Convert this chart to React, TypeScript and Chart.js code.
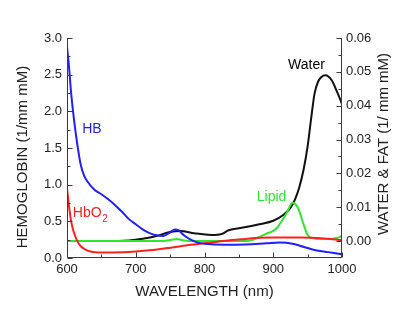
import { useEffect, useRef } from "react";
import { Chart, registerables } from "chart.js";

Chart.register(...registerables);

const FONT = '"Liberation Sans", Arial, Helvetica, sans-serif';

// Deoxy-hemoglobin (left axis)
const hbWavelength = [600, 603, 606, 610, 615, 620, 625, 630, 640, 650, 660, 670, 680, 690, 700, 710, 720, 730, 740, 750, 757, 762, 770, 780, 790, 800, 830, 860, 890, 910, 930, 945, 960, 980, 1000];
const hbValues = [2.88, 2.6, 2.25, 1.9, 1.55, 1.27, 1.12, 1.04, 0.93, 0.87, 0.8, 0.72, 0.63, 0.53, 0.46, 0.39, 0.34, 0.31, 0.3, 0.35, 0.39, 0.38, 0.31, 0.25, 0.21, 0.195, 0.18, 0.185, 0.2, 0.21, 0.19, 0.15, 0.11, 0.08, 0.05];

// Oxy-hemoglobin (left axis)
const hbo2Wavelength = [600, 603, 606, 610, 615, 620, 630, 640, 655, 680, 700, 720, 750, 780, 800, 830, 860, 880, 900, 940, 970, 1000];
const hbo2Values = [0.95, 0.7, 0.5, 0.35, 0.23, 0.16, 0.1, 0.08, 0.075, 0.08, 0.09, 0.105, 0.14, 0.18, 0.2, 0.235, 0.26, 0.275, 0.28, 0.28, 0.27, 0.245];

// Water (right axis)
const waterWavelength = [600, 650, 690, 710, 730, 750, 765, 785, 810, 825, 835, 850, 880, 900, 915, 925, 932, 938, 944, 950, 955, 960, 965, 970, 976, 985, 993, 1000];
const waterValues = [0, 0, 0.0002, 0.0007, 0.0015, 0.0027, 0.003, 0.0023, 0.0018, 0.0021, 0.0032, 0.0038, 0.005, 0.006, 0.0078, 0.0098, 0.0125, 0.016, 0.021, 0.028, 0.036, 0.0435, 0.047, 0.0485, 0.049, 0.0475, 0.044, 0.0405];

// Lipid (right axis)
const lipidWavelength = [600, 740, 752, 760, 770, 790, 860, 870, 880, 890, 898, 905, 912, 920, 928, 933, 938, 944, 950, 958, 970, 985, 993, 1000];
const lipidValues = [0, 0, 0.0004, 0.0006, 0.0002, 0, 0, 0.0004, 0.0012, 0.0022, 0.0028, 0.0038, 0.0058, 0.0085, 0.0113, 0.0108, 0.0088, 0.005, 0.0018, 0.0008, 0.0006, 0.0007, 0.0009, 0.0016];

const xTicks = [600, 700, 800, 900, 1000];
const xMinor = [650, 750, 850, 950];
const leftTicks = [0, 0.5, 1, 1.5, 2, 2.5, 3];
const leftMinor = [0.25, 0.75, 1.25, 1.75, 2.25, 2.75];
const rightTicks = [0, 0.01, 0.02, 0.03, 0.04, 0.05, 0.06];
const rightMinor = [0.005, 0.015, 0.025, 0.035, 0.045, 0.055];

const xTitle = "WAVELENGTH (nm)";
const leftTitle = "HEMOGLOBIN (1/mm mM)";
const rightTitle = "WATER & FAT (1/ mm mM)";

const BLUE = "#1f1fff";
const RED = "#ff1f1f";
const GREEN = "#2ee62e";
const BLACK = "#111111";
const AXIS = "#3a3a3a";
const TEXT = "#222222";

const toXY = (xs: number[], ys: number[]) => xs.map((x, i) => ({ x, y: ys[i] }));

const decorPlugin = {
  id: "decor",
  afterDraw(chart: any) {
    const ctx = chart.ctx as CanvasRenderingContext2D;
    const { left, right, top, bottom } = chart.chartArea;
    const sx = chart.scales.x;
    const sl = chart.scales.y;
    const sr = chart.scales.y2;
    ctx.save();
    ctx.strokeStyle = AXIS;
    ctx.lineWidth = 1;
    const L = Math.round(left) + 0.5;
    const R = Math.round(right) - 0.5;
    const B = Math.round(bottom) - 0.5;
    const T = Math.round(top);
    ctx.beginPath();
    ctx.moveTo(L, T);
    ctx.lineTo(L, B);
    ctx.lineTo(R, B);
    ctx.lineTo(R, T);
    ctx.stroke();
    const seg = (x1: number, y1: number, x2: number, y2: number) => {
      ctx.beginPath();
      ctx.moveTo(x1, y1);
      ctx.lineTo(x2, y2);
      ctx.stroke();
    };
    xTicks.forEach((v) => { const p = Math.round(sx.getPixelForValue(v)) + 0.5; seg(p, B, p, B - 5); });
    xMinor.forEach((v) => { const p = Math.round(sx.getPixelForValue(v)) + 0.5; seg(p, B, p, B - 3); });
    leftTicks.forEach((v) => { const p = Math.round(sl.getPixelForValue(v)) + 0.5; seg(L, p, L + 5, p); });
    leftMinor.forEach((v) => { const p = Math.round(sl.getPixelForValue(v)) + 0.5; seg(L, p, L + 3, p); });
    rightTicks.forEach((v) => { const p = Math.round(sr.getPixelForValue(v)) + 0.5; seg(R, p, R - 5, p); });
    rightMinor.forEach((v) => { const p = Math.round(sr.getPixelForValue(v)) + 0.5; seg(R, p, R - 3, p); });

    // axis titles
    ctx.fillStyle = TEXT;
    ctx.font = `15px ${FONT}`;
    ctx.textAlign = "center";
    ctx.textBaseline = "middle";
    ctx.fillText(xTitle, (left + right) / 2, bottom + 34);
    ctx.save();
    ctx.translate(23, (top + bottom) / 2 + 9);
    ctx.rotate(-Math.PI / 2);
    ctx.fillText(leftTitle, 0, 0);
    ctx.restore();
    ctx.save();
    ctx.translate(384, (top + bottom) / 2 - 4);
    ctx.rotate(-Math.PI / 2);
    ctx.fillText(rightTitle, 0, 0);
    ctx.restore();

    // series labels
    ctx.textAlign = "left";
    ctx.font = `14px ${FONT}`;
    ctx.fillStyle = BLUE;
    ctx.fillText("HB", sx.getPixelForValue(622), sl.getPixelForValue(1.76));
    ctx.fillStyle = RED;
    const hx = sx.getPixelForValue(608.5);
    const hy = sl.getPixelForValue(0.61);
    ctx.fillText("HbO", hx, hy);
    const w = ctx.measureText("HbO").width;
    ctx.font = `10px ${FONT}`;
    ctx.fillText("2", hx + w + 0.5, hy + 6);
    ctx.font = `14px ${FONT}`;
    ctx.fillStyle = GREEN;
    ctx.fillText("Lipid", sx.getPixelForValue(876), sr.getPixelForValue(0.0131));
    ctx.fillStyle = "#000";
    ctx.fillText("Water", sx.getPixelForValue(921.5), sr.getPixelForValue(0.052));
    ctx.restore();
  },
};

export default function App() {
  const ref = useRef<HTMLCanvasElement | null>(null);
  useEffect(() => {
    if (!ref.current) return;
    const tickFont = { family: FONT, size: 13 };
    const chart = new Chart(ref.current, {
      type: "line",
      data: {
        datasets: [
          { label: "HB", data: toXY(hbWavelength, hbValues), borderColor: BLUE, yAxisID: "y" },
          { label: "HbO2", data: toXY(hbo2Wavelength, hbo2Values), borderColor: RED, yAxisID: "y" },
          { label: "Lipid", data: toXY(lipidWavelength, lipidValues), borderColor: GREEN, yAxisID: "y2" },
          { label: "Water", data: toXY(waterWavelength, waterValues), borderColor: BLACK, yAxisID: "y2" },
        ].map((d) => ({
          ...d,
          borderWidth: 2,
          pointRadius: 0,
          fill: false,
          cubicInterpolationMode: "monotone" as const,
        })),
      },
      options: {
        animation: false,
        responsive: true,
        maintainAspectRatio: false,
        layout: { padding: { top: 38, left: 0, right: 0, bottom: 0 } },
        plugins: { legend: { display: false }, tooltip: { enabled: false } },
        scales: {
          x: {
            type: "linear",
            min: 600,
            max: 1000,
            grid: { display: false, drawTicks: false },
            border: { display: false },
            afterBuildTicks: (s: any) => { s.ticks = xTicks.map((v) => ({ value: v })); },
            afterFit: (s: any) => { s.height = 66; },
            ticks: { font: tickFont, color: TEXT, padding: 4, maxRotation: 0, callback: (v: any) => String(v) },
          },
          y: {
            type: "linear",
            position: "left",
            min: 0,
            max: 3,
            grid: { display: false, drawTicks: false },
            border: { display: false },
            afterBuildTicks: (s: any) => { s.ticks = leftTicks.map((v) => ({ value: v })); },
            afterFit: (s: any) => { s.width = 67; },
            ticks: { font: tickFont, color: TEXT, padding: 5, callback: (v: any) => Number(v).toFixed(1) },
          },
          y2: {
            type: "linear",
            position: "right",
            min: -0.005,
            max: 0.06,
            grid: { display: false, drawTicks: false },
            border: { display: false },
            afterBuildTicks: (s: any) => { s.ticks = rightTicks.map((v) => ({ value: v })); },
            afterFit: (s: any) => { s.width = 58; },
            ticks: { font: tickFont, color: TEXT, padding: 4, callback: (v: any) => Number(v).toFixed(2) },
          },
        },
      },
      plugins: [decorPlugin],
    } as any);
    return () => chart.destroy();
  }, []);
  return (
    <div style={{ position: "fixed", left: 0, top: 0, width: 400, height: 324, background: "#fff" }}>
      <canvas ref={ref} />
    </div>
  );
}
